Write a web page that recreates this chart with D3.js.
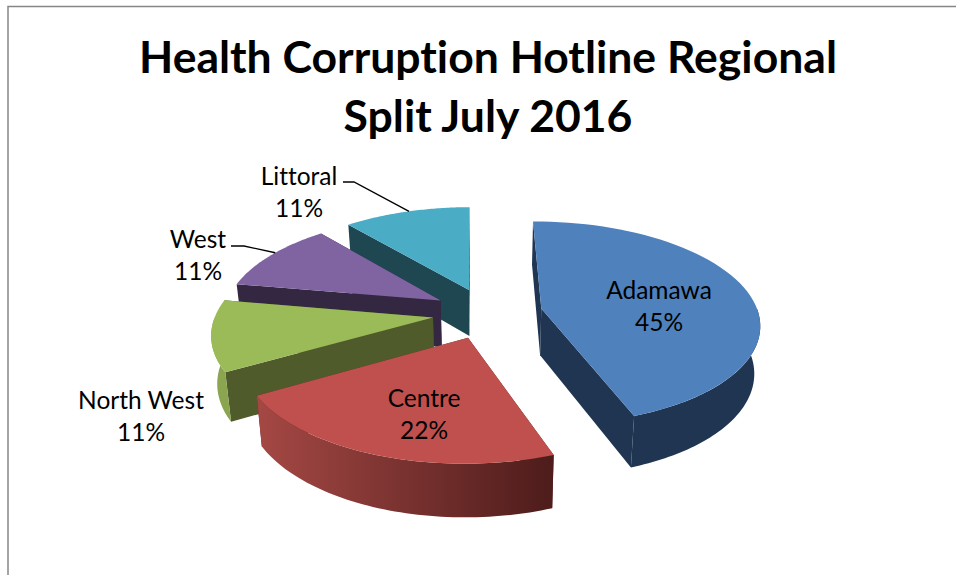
<!DOCTYPE html>
<html>
<head>
<meta charset="utf-8">
<script src="https://cdn.jsdelivr.net/npm/d3@7"></script>
<style>
  html, body { margin: 0; padding: 0; background: #fff; }
  svg { display: block; }
  text { font-family: Lato, "Open Sans", sans-serif; fill: #000; font-variant-ligatures: none; }
  .title { font-size: 44.5px; font-weight: 700; text-anchor: middle; }
  .label { font-size: 24.5px; text-anchor: middle; }
</style>
</head>
<body>
<div id="chart"></div>
<script>
const categories = ['Adamawa', 'Centre', 'North West', 'West', 'Littoral'];
const shares = [44.6, 22.2, 11.1, 11.1, 11.0];
const titleLines = ['Health Corruption Hotline Regional', 'Split July 2016'];

const width = 956;
const height = 575;

// 3d pie settings, fitted by eye against the picture
const center = {x: 487.5, y: 313};
const radius = 217;
const explode = 55;
const tilt = 0.463;
const depth = 47;
const persp = 0.00065;
const startDeg = -0.5;

const topColor = d3.scaleOrdinal(categories, ['#4f81bd', '#c0504d', '#9bbb59', '#8064a2', '#4bacc6']);
const sideColor = d3.scaleOrdinal(categories, ['#1f3552', '#5a2220', '#4f5b2a', '#332741', '#1e4752']);
const rimFrom = d3.scaleOrdinal(categories, ['#1f3552', '#a54844', '#8ca653', '#332741', '#1e4752']);
const rimTo = d3.scaleOrdinal(categories, ['#1f3552', '#4d1c1b', '#8aa44f', '#332741', '#1e4752']);

// where the labels go: [x, y of first line]
const labelPos = {
  'Adamawa': [659, 299],
  'Centre': [424, 407],
  'North West': [141, 409],
  'West': [198, 248],
  'Littoral': [299, 185]
};
// leader lines for the two labels outside the top of the pie
const leaderAngle = {'West': 0.55, 'Littoral': 0.52};
const leaderStart = {'West': [[231, 246], [244, 246]], 'Littoral': [[343, 182], [354, 182]]};

// back to front, so the nearer slices cover the walls behind them
const drawOrder = ['Littoral', 'West', 'North West', 'Centre', 'Adamawa'];

const svg = d3.select('#chart').append('svg')
  .attr('width', width)
  .attr('height', height);

// frame of the chart, cut off by the page on the right and at the bottom
svg.append('path')
  .attr('d', 'M8,575V6.5H956')
  .attr('fill', 'none')
  .attr('stroke', '#868686')
  .attr('stroke-width', 1.5);

svg.selectAll('.title')
  .data(titleLines)
  .enter()
  .append('text')
  .attr('class', 'title')
  .attr('x', 488)
  .attr('y', (d, i) => 73 + i * 59)
  .text((d) => d);

const pie = d3.pie()
  .value((d) => d)
  .sort(null)
  .startAngle(startDeg * Math.PI / 180)
  .endAngle((startDeg + 360) * Math.PI / 180);

const slices = pie(shares).map((d, i) => ({...d, name: categories[i]}));

// ground plane -> screen. z is 0 on the top face and 1 on the bottom face
function project(px, py, z) {
  const s = 1 / (1 - persp * py);
  const sc = s * (1 - 0.022 * z);
  return [center.x + sc * px, center.y + sc * py * tilt + z * depth * s];
}

function slicePoint(d, angle, r, z) {
  const mid = (d.startAngle + d.endAngle) / 2;
  const px = explode * Math.sin(mid) + r * Math.sin(angle);
  const py = -explode * Math.cos(mid) - r * Math.cos(angle);
  return project(px, py, z);
}

function arcAngles(from, to) {
  const steps = 60;
  return d3.range(steps + 1).map((i) => from + (to - from) * i / steps);
}

const line = d3.line();

const defs = svg.append('defs');
const g = svg.append('g');

drawOrder.forEach((name) => {
  const d = slices.find((s) => s.name === name);
  const apexTop = slicePoint(d, 0, 0, 0);
  const apexBot = slicePoint(d, 0, 0, 1);
  const topArc = arcAngles(d.startAngle, d.endAngle).map((a) => slicePoint(d, a, radius, 0));

  // the two cut faces
  [d.startAngle, d.endAngle].forEach((a) => {
    const face = [apexTop, slicePoint(d, a, radius, 0), slicePoint(d, a, radius, 1), apexBot];
    g.append('path')
      .attr('d', line(face) + 'Z')
      .attr('fill', sideColor(name));
  });

  // rim, only the part that faces the viewer, with a left to right shade
  const rimStart = Math.max(d.startAngle, Math.PI / 2);
  const rimEnd = Math.min(d.endAngle, Math.PI * 1.5);
  if (rimEnd > rimStart) {
    const rimAngles = arcAngles(rimStart, rimEnd);
    const rimTop = rimAngles.map((a) => slicePoint(d, a, radius, 0));
    const rimBot = rimAngles.map((a) => slicePoint(d, a, radius, 1));
    const xs = rimTop.map((p) => p[0]);
    const gradId = 'rim' + categories.indexOf(name);
    const grad = defs.append('linearGradient')
      .attr('id', gradId)
      .attr('gradientUnits', 'userSpaceOnUse')
      .attr('x1', d3.min(xs)).attr('x2', d3.max(xs))
      .attr('y1', 0).attr('y2', 0);
    grad.append('stop').attr('offset', 0).attr('stop-color', rimFrom(name));
    grad.append('stop').attr('offset', 1).attr('stop-color', rimTo(name));

    g.append('path')
      .attr('d', line(rimTop.concat(rimBot.reverse())) + 'Z')
      .attr('fill', 'url(#' + gradId + ')');
  }

  g.append('path')
    .attr('d', line([apexTop].concat(topArc)) + 'Z')
    .attr('fill', topColor(name));
});

// leader lines end on the outer edge of their slice
Object.keys(leaderStart).forEach((name) => {
  const d = slices.find((s) => s.name === name);
  const a = d.startAngle + (d.endAngle - d.startAngle) * leaderAngle[name];
  svg.append('path')
    .attr('d', line(leaderStart[name].concat([slicePoint(d, a, radius, 0)])))
    .attr('fill', 'none')
    .attr('stroke', '#000')
    .attr('stroke-width', 1.3);
});

slices.forEach((d) => {
  const pos = labelPos[d.name];
  const text = svg.append('text')
    .attr('class', 'label')
    .attr('x', pos[0])
    .attr('y', pos[1]);
  text.append('tspan').attr('x', pos[0]).text(d.name);
  text.append('tspan').attr('x', pos[0]).attr('dy', 32).text(Math.round(d.value) + '%');
});
</script>
</body>
</html>
